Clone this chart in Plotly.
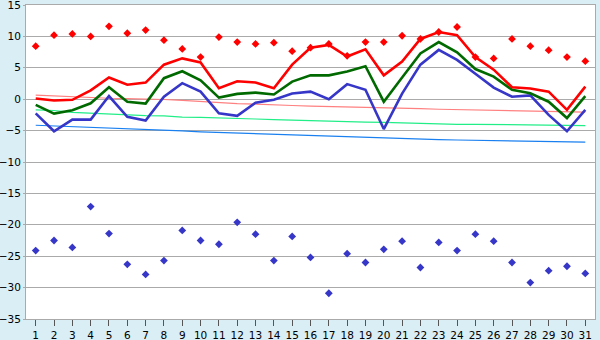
import plotly.graph_objects as go

days = list(range(1, 32))

temp_max = [0.1, -0.2, -0.1, 1.4, 3.45, 2.3, 2.65, 5.5, 6.5, 5.85, 1.75, 2.85, 2.65, 1.75, 5.5,
            8.2, 8.65, 6.8, 7.95, 3.8, 6.0, 9.6, 10.7, 10.2, 6.7, 4.7, 1.9, 1.7, 1.2, -1.7, 2.0]
temp_mean = [-0.9, -2.3, -1.75, -0.65, 1.9, -0.4, -0.7, 3.35, 4.45, 3.0, 0.25, 0.85, 1.05, 0.75, 2.8,
             3.8, 3.8, 4.4, 5.25, -0.4, 3.45, 7.3, 9.1, 7.45, 4.8, 3.6, 1.5, 0.95, -0.4, -3.0, 0.5]
temp_min = [-2.25, -5.1, -3.25, -3.25, 0.5, -2.8, -3.4, 0.4, 2.55, 1.2, -2.25, -2.65, -0.55, -0.1, 0.9,
            1.2, 0.0, 2.4, 1.5, -4.75, 0.9, 5.5, 7.85, 6.25, 4.05, 1.85, 0.4, 0.6, -2.5, -5.1, -1.7]
record_max = [8.45, 10.2, 10.4, 10.0, 11.6, 10.5, 11.0, 9.4, 8.0, 6.7, 9.9, 9.1, 8.8, 9.0, 7.65,
              8.2, 8.8, 6.9, 9.1, 9.1, 10.1, 9.6, 10.7, 11.5, 6.7, 6.5, 9.6, 8.45, 7.8, 6.7, 6.05]
record_min = [-24.1, -22.5, -23.6, -17.1, -21.4, -26.3, -27.9, -25.7, -20.9, -22.5, -23.1, -19.6, -21.5,
              -25.7, -21.85, -25.2, -30.9, -24.6, -26.0, -23.9, -22.6, -26.8, -22.8, -24.1, -21.5,
              -22.6, -26.0, -29.2, -27.3, -26.6, -27.75]
normal_max = [0.65, 0.5, 0.45, 0.3, 0.15, 0.1, 0.05, -0.05, -0.2, -0.4, -0.5, -0.7, -0.8, -0.95, -1.0,
              -1.1, -1.15, -1.25, -1.3, -1.4, -1.4, -1.5, -1.6, -1.65, -1.65, -1.7, -1.8, -1.85, -1.95,
              -2.0, -2.05]
normal_mean = [-1.7, -1.8, -2.1, -2.25, -2.35, -2.55, -2.6, -2.65, -2.85, -2.9, -2.95, -3.05, -3.15,
               -3.25, -3.35, -3.4, -3.5, -3.6, -3.65, -3.7, -3.8, -3.9, -3.95, -4.0, -4.0, -4.05,
               -4.1, -4.15, -4.15, -4.2, -4.2]
normal_min = [-4.15, -4.25, -4.35, -4.45, -4.55, -4.7, -4.8, -4.95, -5.05, -5.2, -5.3, -5.45, -5.55,
              -5.65, -5.75, -5.85, -5.95, -6.05, -6.1, -6.2, -6.25, -6.35, -6.45, -6.5, -6.55, -6.6,
              -6.7, -6.75, -6.75, -6.8, -6.85]

fig = go.Figure()

fig.add_trace(go.Scatter(x=days, y=normal_max, mode="lines", line=dict(color="#ff8080", width=1.2)))
fig.add_trace(go.Scatter(x=days, y=normal_mean, mode="lines", line=dict(color="#22ee88", width=1.2)))
fig.add_trace(go.Scatter(x=days, y=normal_min, mode="lines", line=dict(color="#1a80f0", width=1.2)))

fig.add_trace(go.Scatter(x=days, y=temp_min, mode="lines", line=dict(color="#3636c8", width=2.6)))
fig.add_trace(go.Scatter(x=days, y=temp_mean, mode="lines", line=dict(color="#006a00", width=2.6)))
fig.add_trace(go.Scatter(x=days, y=temp_max, mode="lines", line=dict(color="#ff0000", width=2.6)))

fig.add_trace(go.Scatter(x=days, y=record_max, mode="markers",
                         marker=dict(symbol="diamond", size=6, color="#ff0000")))
fig.add_trace(go.Scatter(x=days, y=record_min, mode="markers",
                         marker=dict(symbol="diamond", size=6, color="#3636c8")))

fig.update_layout(
    width=600, height=340, autosize=False,
    margin=dict(l=26, r=5, t=5, b=21),
    paper_bgcolor="#d9eef5", plot_bgcolor="#ffffff",
    showlegend=False,
    font=dict(family="DejaVu Sans", size=10.5, color="#000000"),
)
fig.update_xaxes(
    range=[0.47, 31.53], tickmode="array", tickvals=days, ticktext=[str(d) for d in days],
    showgrid=False, zeroline=False, automargin=False, ticklabeloverflow="allow",
    showline=True, mirror=True, linecolor="#aaaaaa", linewidth=1,
    ticks="outside", ticklen=6, tickcolor="#555555",
)
fig.update_yaxes(
    range=[-35, 15], tickmode="array", tickvals=list(range(-35, 16, 5)),
    showgrid=True, gridcolor="#aaaaaa", gridwidth=1, zeroline=False, automargin=False,
    ticklabeloverflow="allow",
    showline=True, mirror=True, linecolor="#aaaaaa", linewidth=1,
    ticks="outside", ticklen=2, tickcolor="#aaaaaa",
)

fig.write_html("out.html", config={"displayModeBar": False},
               post_script="document.body.style.margin='0';document.body.style.background='#d9eef5';")
